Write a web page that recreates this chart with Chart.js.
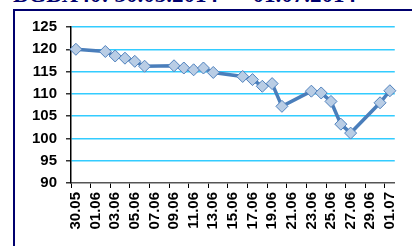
<!DOCTYPE html>
<html>
<head>
<meta charset="utf-8">
<script src="https://cdn.jsdelivr.net/npm/chart.js@4"></script>
<style>
  html, body { margin: 0; padding: 0; background: #fff; }
  #wrap { position: relative; width: 412px; height: 246px; overflow: hidden; }
  #title { position: absolute; left: 13px; top: -18px; font: bold 23px "Liberation Serif", serif; color: #00006e; white-space: pre; }
  #frame { position: absolute; left: 13px; top: 9px; width: 420px; height: 260px; border-top: 2px solid #00006e; border-left: 2px solid #00006e; }
  #Chart-bgbx { position: absolute; left: 0; top: 0; }
</style>
</head>
<body>
<div id="wrap">
  <div id="title">BGBX40: 30.05.2014  –  01.07.2014</div>
  <div id="frame"></div>
  <canvas id="Chart-bgbx" width="412" height="246"></canvas>
</div>
<script>
// calendar days on the axis (date axis, labels every 2 days)
var days = ['30.05', '31.05', '01.06', '02.06', '03.06', '04.06', '05.06', '06.06', '07.06', '08.06',
  '09.06', '10.06', '11.06', '12.06', '13.06', '14.06', '15.06', '16.06', '17.06', '18.06',
  '19.06', '20.06', '21.06', '22.06', '23.06', '24.06', '25.06', '26.06', '27.06', '28.06',
  '29.06', '30.06', '01.07'];
// index value, null = no trading that day
var values = [120, null, null, 119.5, 118.5, 118, 117.3, 116.2, null, null,
  116.3, 115.8, 115.4, 115.8, 114.8, null, null, 113.9, 113.2, 111.7,
  112.3, 107.2, null, null, 110.6, 110.2, 108.3, 103.2, 101.2, null,
  null, 108, 110.7];
var yMin = 90, yMax = 125, yStep = 5;

function chart_bgbx() {
  var ctx = document.getElementById('Chart-bgbx').getContext('2d');
  new Chart(ctx, {
    type: 'line',
    data: {
      labels: days,
      datasets: [{
        data: values,
        spanGaps: true,
        borderColor: '#4a7ebb',
        borderWidth: 3.5,
        tension: 0,
        pointStyle: 'rectRot',
        pointRadius: 6,
        pointBackgroundColor: '#b9cde5',
        pointBorderColor: '#4f81bd',
        pointBorderWidth: 1
      }]
    },
    options: {
      responsive: false,
      animation: false,
      layout: {
        padding: { left: 0, top: 27, right: 9, bottom: 0 }
      },
      plugins: {
        legend: { display: false },
        tooltip: { enabled: false }
      },
      scales: {
        x: {
          offset: true,
          afterFit: function(scale) { scale.height = 63; },
          grid: {
            offset: true,
            drawOnChartArea: false,
            tickLength: 5,
            tickWidth: 1,
            tickColor: function(c) { return c.index % 2 === 0 ? '#000' : 'rgba(0,0,0,0)'; }
          },
          border: { color: '#555', width: 1.5 },
          ticks: {
            autoSkip: false,
            minRotation: 90,
            maxRotation: 90,
            padding: 4,
            color: '#000',
            font: { family: 'Liberation Sans, Arial', size: 15, weight: 'bold' },
            callback: function(v, i) { return i % 2 === 0 ? days[i] : ''; }
          }
        },
        y: {
          min: yMin,
          max: yMax,
          afterFit: function(scale) { scale.width = 71; },
          ticks: {
            stepSize: yStep,
            padding: 9,
            color: '#000',
            font: { family: 'Liberation Sans, Arial', size: 15, weight: 'bold' }
          },
          grid: {
            color: function(c) { return c.tick && c.tick.value === yMin ? 'rgba(0,0,0,0)' : '#33ccff'; },
            lineWidth: 1.5,
            tickLength: 5,
            tickColor: '#333'
          },
          border: { color: '#000', width: 1.5 }
        }
      }
    }
  });
}
chart_bgbx();
</script>
</body>
</html>
